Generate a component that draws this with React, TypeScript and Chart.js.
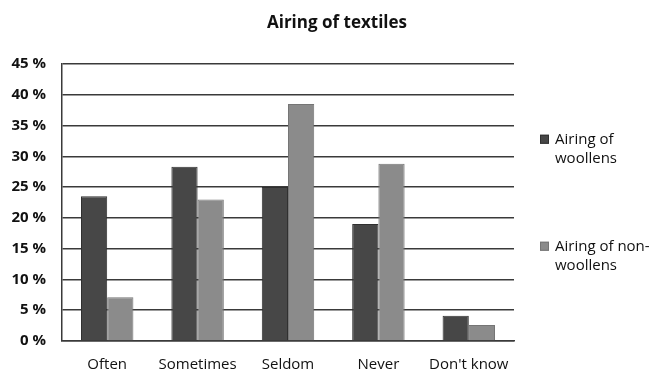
import React, { useEffect, useRef } from "react";
import { Chart, registerables, Plugin } from "chart.js";

Chart.register(...registerables);

const chartTitle = "Airing of textiles";
const categories = ["Often", "Sometimes", "Seldom", "Never", "Don't know"];
const woollens = [23.5, 28.3, 25.0, 19.0, 4.1];
const nonWoollens = [7.1, 23.0, 38.5, 28.8, 2.6];
const seriesLabels = ["Airing of woollens", "Airing of non-woollens"];
const seriesFill = ["#474747", "#8b8b8b"];
const seriesBorder = ["#303030", "#757575"];

const FONT = "'Open Sans', 'DejaVu Sans', sans-serif";

// Title drawn a little right of centre, over the plot and legend together
const titlePlugin: Plugin<"bar"> = {
  id: "sideTitle",
  afterDraw(chart) {
    const { ctx } = chart;
    ctx.save();
    ctx.font = `bold 17px ${FONT}`;
    ctx.fillStyle = "#111";
    ctx.textAlign = "center";
    ctx.textBaseline = "middle";
    ctx.fillText(chartTitle, 337, 23);
    ctx.restore();
  },
};

// Wrap a label into lines, breaking after spaces or hyphens
function wrapLabel(ctx: CanvasRenderingContext2D, text: string, maxWidth: number): string[] {
  const tokens = text.match(/[^\s-]+-?\s*/g) || [text];
  const lines: string[] = [];
  let cur = "";
  for (const t of tokens) {
    const next = cur + t;
    if (cur && ctx.measureText(next.trimEnd()).width > maxWidth) {
      lines.push(cur.trimEnd());
      cur = t;
    } else {
      cur = next;
    }
  }
  if (cur) lines.push(cur.trimEnd());
  return lines;
}

// Legend at the right with wrapped, multi-line labels
const legendPlugin: Plugin<"bar"> = {
  id: "wrapLegend",
  afterDraw(chart) {
    const { ctx, chartArea } = chart;
    const boxX = chartArea.right + 26;
    const textX = boxX + 15;
    const lineH = 19.5;
    const spacing = 107;
    const datasets = chart.data.datasets;
    const n = datasets.length;
    const midY = (chartArea.top + chartArea.bottom) / 2;
    ctx.save();
    ctx.font = `15px ${FONT}`;
    ctx.textBaseline = "middle";
    ctx.textAlign = "left";
    datasets.forEach((ds, i) => {
      const lines = wrapLabel(ctx, String(ds.label), 100);
      const blockTop = midY + (i - (n - 1) / 2) * spacing - (lines.length * lineH) / 2 + lineH / 2;
      ctx.fillStyle = seriesFill[i];
      ctx.strokeStyle = seriesBorder[i];
      ctx.lineWidth = 1;
      ctx.fillRect(boxX, blockTop - 4.5, 9, 9);
      ctx.strokeRect(boxX + 0.5, blockTop - 4, 8, 8);
      ctx.fillStyle = "#111";
      lines.forEach((ln, j) => ctx.fillText(ln, textX, blockTop + j * lineH));
    });
    ctx.restore();
  },
};

export default function App() {
  const ref = useRef<HTMLCanvasElement>(null);

  useEffect(() => {
    if (!ref.current) return;
    const chart = new Chart(ref.current, {
      type: "bar",
      data: {
        labels: categories,
        datasets: [
          {
            label: seriesLabels[0],
            data: woollens,
            backgroundColor: seriesFill[0],
            borderColor: seriesBorder[0],
            borderWidth: 1,
          },
          {
            label: seriesLabels[1],
            data: nonWoollens,
            backgroundColor: seriesFill[1],
            borderColor: seriesBorder[1],
            borderWidth: 1,
          },
        ],
      },
      options: {
        animation: false,
        responsive: false,
        maintainAspectRatio: false,
        layout: { padding: { top: 64, right: 138, left: 0, bottom: 0 } },
        datasets: { bar: { categoryPercentage: 0.58, barPercentage: 1 } },
        plugins: {
          legend: { display: false },
          title: { display: false },
          tooltip: { enabled: false },
        },
        scales: {
          x: {
            grid: { display: false, drawTicks: false },
            border: { display: true, color: "#3a3a3a", width: 1.5 },
            ticks: {
              color: "#111",
              font: { family: FONT, size: 15 },
              padding: 15,
            },
            afterFit(scale: any) {
              scale.height = 29;
            },
          },
          y: {
            min: 0,
            max: 45,
            grid: { color: "#3a3a3a", lineWidth: 1.5, drawTicks: false },
            border: { display: true, color: "#3a3a3a", width: 1.5 },
            ticks: {
              stepSize: 5,
              color: "#111",
              font: { family: FONT, size: 15, weight: "bold" },
              padding: 16,
              callback: (v: any) => `${v} %`,
            },
            afterFit(scale: any) {
              scale.width = 62;
            },
          },
        },
      },
      plugins: [titlePlugin, legendPlugin],
    });
    return () => chart.destroy();
  }, []);

  return (
    <div style={{ position: "fixed", left: 0, top: 0, width: 652, height: 370, background: "#fff" }}>
      <canvas ref={ref} width={652} height={370} style={{ display: "block" }} />
    </div>
  );
}
